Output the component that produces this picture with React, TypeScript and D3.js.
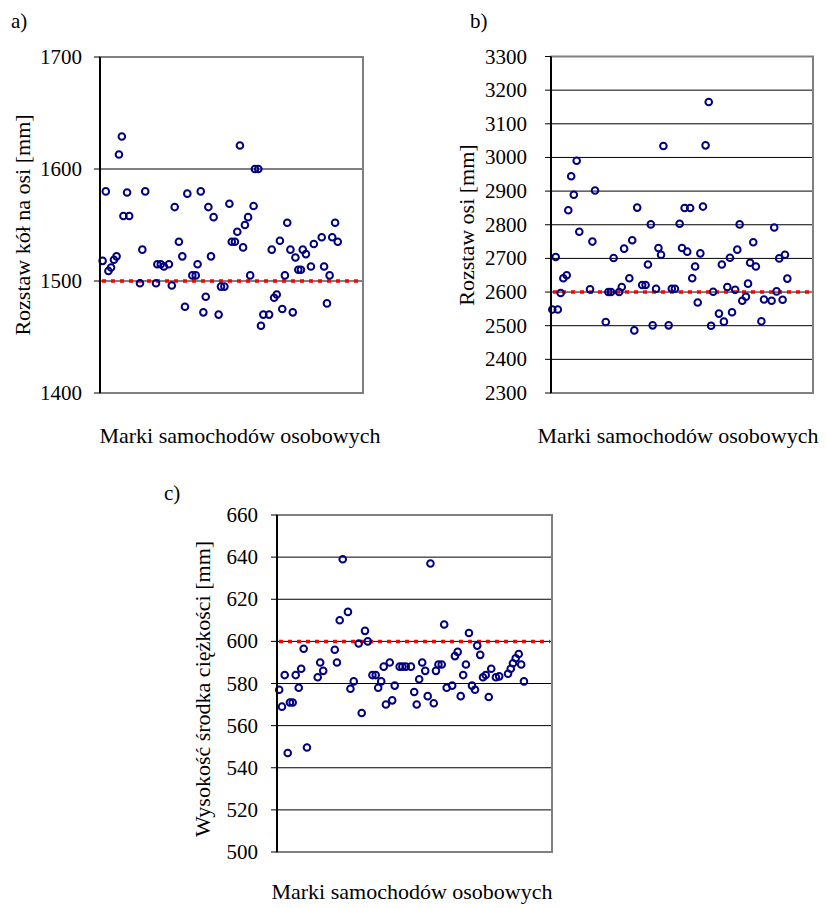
import React from 'react';
import * as d3 from 'd3';

// brand index (0-100 scale along the category axis) and measured value
const wheelTrackX = [1.0, 2.2, 3.2, 4.2, 5.3, 6.3, 7.2, 8.3, 8.9, 10.3, 11.1, 15.2, 16.1, 17.2, 21.3, 21.8, 23.1, 24.3, 26.2, 27.3, 28.4, 30.0, 31.3, 32.3, 33.2, 35.1, 36.4, 37.1, 38.3, 39.3, 40.2, 41.2, 42.2, 43.2, 45.1, 46.0, 47.3, 49.2, 50.1, 51.3, 52.2, 53.2, 54.4, 55.1, 56.3, 57.1, 58.4, 58.9, 60.2, 61.2, 62.1, 64.3, 65.3, 66.2, 67.2, 68.4, 69.3, 70.3, 71.2, 72.4, 73.3, 74.3, 75.4, 76.4, 77.1, 78.3, 80.2, 81.3, 84.3, 85.2, 86.3, 87.3, 88.3, 89.4, 90.4];
const wheelTrack = [1518, 1580, 1509, 1512, 1519, 1522, 1613, 1629, 1558, 1579, 1558, 1498, 1528, 1580, 1498, 1515, 1515, 1513, 1515, 1496, 1566, 1535, 1522, 1477, 1578, 1505, 1505, 1515, 1580, 1472, 1486, 1566, 1522, 1557, 1470, 1495, 1495, 1569, 1535, 1535, 1544, 1621, 1530, 1550, 1557, 1505, 1567, 1600, 1600, 1460, 1470, 1470, 1528, 1485, 1488, 1536, 1475, 1505, 1552, 1528, 1472, 1521, 1510, 1510, 1528, 1524, 1513, 1533, 1539, 1513, 1480, 1505, 1539, 1552, 1535];

const wheelbaseX = [0.5, 1.8, 2.6, 3.7, 4.7, 6.0, 6.6, 7.7, 8.7, 9.8, 10.8, 14.9, 15.8, 16.8, 20.9, 21.9, 22.9, 23.9, 26.0, 27.0, 27.9, 29.9, 31.0, 31.8, 32.9, 34.8, 36.1, 37.0, 38.1, 38.8, 40.1, 41.0, 42.0, 42.9, 44.9, 46.1, 47.3, 49.1, 50.0, 51.0, 52.0, 53.1, 53.9, 55.0, 56.0, 57.0, 58.0, 59.0, 60.2, 61.1, 61.9, 64.1, 65.2, 66.0, 67.3, 68.3, 69.1, 70.3, 71.1, 72.0, 73.0, 74.4, 75.2, 76.0, 77.2, 78.2, 80.3, 81.3, 84.2, 85.2, 86.1, 87.1, 88.4, 89.3, 90.2];
const wheelbase = [2548, 2704, 2548, 2597, 2641, 2650, 2843, 2944, 2889, 2990, 2779, 2608, 2750, 2902, 2511, 2600, 2600, 2701, 2600, 2615, 2729, 2641, 2754, 2486, 2851, 2621, 2621, 2682, 2801, 2501, 2610, 2731, 2711, 3034, 2501, 2610, 2610, 2803, 2731, 2850, 2720, 2850, 2641, 2676, 2569, 2715, 2854, 3036, 3165, 2500, 2601, 2536, 2682, 2512, 2615, 2702, 2540, 2607, 2726, 2801, 2574, 2586, 2625, 2687, 2748, 2676, 2513, 2578, 2574, 2792, 2602, 2700, 2577, 2711, 2640];

const cogX = [0.8, 1.8, 2.8, 3.9, 4.7, 5.7, 6.8, 7.9, 8.8, 9.7, 10.9, 14.8, 15.7, 16.8, 21.0, 21.8, 22.8, 23.9, 25.8, 26.7, 27.9, 29.7, 30.8, 32.0, 33.0, 34.7, 35.9, 36.8, 37.9, 38.8, 39.6, 41.0, 41.9, 42.8, 44.6, 45.6, 46.8, 48.7, 49.9, 50.8, 51.7, 52.8, 53.9, 54.8, 55.8, 57.0, 57.8, 58.7, 59.9, 60.8, 61.7, 63.7, 64.7, 65.7, 66.8, 67.7, 68.7, 69.8, 70.9, 72.0, 72.8, 73.9, 74.9, 75.9, 77.0, 77.9, 79.6, 80.8, 84.0, 85.0, 85.8, 86.8, 87.9, 88.8, 89.8];
const cogHeight = [577, 569, 584, 547, 571, 571, 584, 578, 587, 596.5, 549.6, 583, 590, 586, 596, 590, 610, 639, 614, 577.5, 581, 599, 566, 605, 600, 584, 584, 578, 581, 588, 570, 590, 572, 579, 588, 588, 588, 588, 576, 570, 582, 590, 586, 574, 637, 570.6, 586, 589, 589, 608, 578, 579, 593, 595, 574, 584, 589, 604, 579, 577, 598, 593.6, 583, 584, 573.6, 587, 583, 583.4, 584.6, 587, 589.6, 592, 594, 589, 581];

const ticksA = [1400, 1500, 1600, 1700];
const ticksB = [2300, 2400, 2500, 2600, 2700, 2800, 2900, 3000, 3100, 3200, 3300];
const ticksC = [500, 520, 540, 560, 580, 600, 620, 640, 660];

const limitA = 1500;
const limitB = 2600;
const limitC = 600;

const xTitle = 'Marki samochodów osobowych';

const FONT = '"Liberation Serif", "Times New Roman", serif';

type PanelProps = {
  letter: string;
  letterPos: [number, number];
  box: { left: number; right: number; top: number; bottom: number };
  xs: number[];
  ys: number[];
  ticks: number[];
  limit: number;
  labelGap: number;
  yTitle: string;
  yTitlePos: [number, number];
  xTitleX: number;
  xTitleY: number;
};

function Panel({ letter, letterPos, box, xs, ys, ticks, limit, labelGap, yTitle, yTitlePos, xTitleX, xTitleY }: PanelProps) {
  const x = d3.scaleLinear().domain([0, 100]).range([box.left, box.right]);
  const y = d3.scaleLinear().domain([ticks[0], ticks[ticks.length - 1]]).range([box.bottom, box.top]);

  return (
    <g>
      <text x={letterPos[0]} y={letterPos[1]} fontSize={21} fontFamily={FONT}>{letter}</text>

      {/* gridlines */}
      {ticks.slice(1, -1).map(t => (
        <line key={'g' + t} x1={box.left} x2={box.right} y1={y(t)} y2={y(t)} stroke="#000" strokeWidth={1} />
      ))}
      {/* plot area border */}
      <rect x={box.left} y={box.top} width={box.right - box.left} height={box.bottom - box.top}
        fill="none" stroke="#808080" strokeWidth={2} />

      {/* limit line */}
      <line x1={box.left + 2} x2={box.right - 2} y1={y(limit)} y2={y(limit)}
        stroke="#ff0000" strokeWidth={3.5} strokeDasharray="4 5" />

      {/* points */}
      {xs.map((v, i) => (
        <circle key={i} cx={x(v)} cy={y(ys[i])} r={3.3} fill="none" stroke="#000080" strokeWidth={2} />
      ))}

      {/* y axis */}
      <line x1={box.left} x2={box.left} y1={box.top} y2={box.bottom} stroke="#000" strokeWidth={2} />
      {ticks.map(t => (
        <g key={'t' + t}>
          <line x1={box.left - 6} x2={box.left} y1={y(t)} y2={y(t)} stroke="#000" strokeWidth={1} />
          <text x={box.left - labelGap} y={y(t)} textAnchor="end" dominantBaseline="central"
            fontSize={21} fontFamily={FONT}>{t}</text>
        </g>
      ))}

      <text transform={`translate(${yTitlePos[0]},${yTitlePos[1]}) rotate(-90)`} textAnchor="middle"
        dominantBaseline="central" fontSize={22} fontFamily={FONT}>{yTitle}</text>
      <text x={xTitleX} y={xTitleY} textAnchor="middle" fontSize={22} fontFamily={FONT}>{xTitle}</text>
    </g>
  );
}

export default function App() {
  return (
    <svg width={827} height={908} style={{ position: 'absolute', left: 0, top: 0, background: '#fff' }}>
      <rect width={827} height={908} fill="#fff" />
      <Panel letter="a)" letterPos={[11, 28]} box={{ left: 100, right: 363, top: 57, bottom: 393 }}
        xs={wheelTrackX} ys={wheelTrack} ticks={ticksA} limit={limitA} labelGap={18}
        yTitle="Rozstaw kół na osi [mm]" yTitlePos={[22, 225]} xTitleX={240} xTitleY={443} />
      <Panel letter="b)" letterPos={[470, 28]} box={{ left: 551, right: 813, top: 56.5, bottom: 393 }}
        xs={wheelbaseX} ys={wheelbase} ticks={ticksB} limit={limitB} labelGap={24}
        yTitle="Rozstaw osi [mm]" yTitlePos={[466, 225]} xTitleX={678} xTitleY={443} />
      <Panel letter="c)" letterPos={[164, 500]} box={{ left: 277, right: 552, top: 515, bottom: 852 }}
        xs={cogX} ys={cogHeight} ticks={ticksC} limit={limitC} labelGap={19}
        yTitle="Wysokość środka ciężkości [mm]" yTitlePos={[202, 689]} xTitleX={412} xTitleY={899} />
    </svg>
  );
}
